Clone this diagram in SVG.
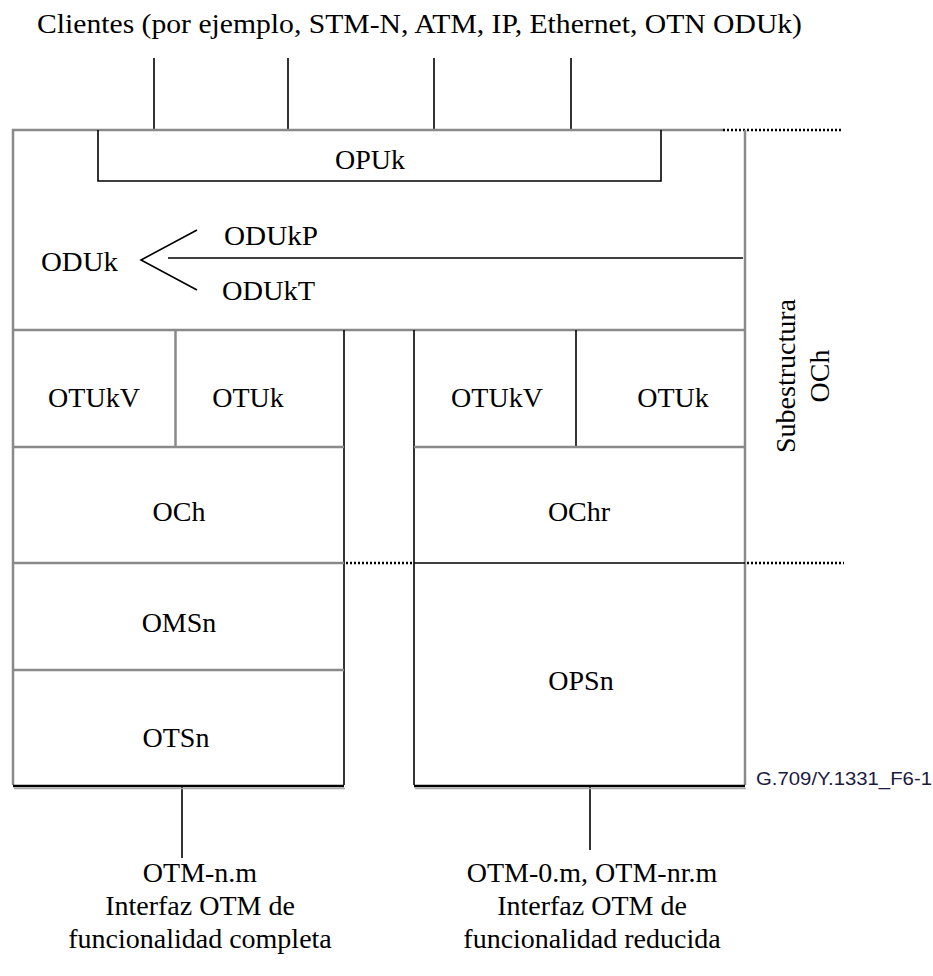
<svg xmlns="http://www.w3.org/2000/svg" width="933" height="976" viewBox="0 0 933 976">
<style>
.t{font-family:'Liberation Serif','Times New Roman',serif;font-size:28px;fill:#000}
.c{text-anchor:middle}
.g{stroke:#8a8a8a;stroke-width:2.5;fill:none}
.k{stroke:#000;stroke-width:1.6;fill:none}
.d{stroke:#000;stroke-width:2.5;stroke-dasharray:2 2;fill:none}
.sans{font-family:'Liberation Sans',Arial,sans-serif;font-size:19px;fill:#1a1a40}
</style>
<rect width="933" height="976" fill="#fff"/>
<g id="title"><text class="t" x="37" y="33" textLength="765" lengthAdjust="spacingAndGlyphs">Clientes (por ejemplo, STM-N, ATM, IP, Ethernet, OTN ODUk)</text></g>
<g id="connectors">
<path class="k" d="M154 58V130M288 58V130M434 58V130M571 58V130"/>
<path class="k" d="M182 786V858M590 786V850"/>
<path class="d" d="M723 130H842M346 563H412M747 563H844"/>
</g>
<g id="oduk">
<path class="g" d="M13 330V130H723M745 130V330"/>
<path class="g" d="M13 330H745"/>
<path class="k" d="M168 258H743"/>
<path class="k" stroke="#444" d="M197 230L141 260L197 290"/>
<text class="t" x="41" y="271" textLength="77" lengthAdjust="spacingAndGlyphs">ODUk</text>
<text class="t" x="224" y="245" textLength="94" lengthAdjust="spacingAndGlyphs">ODUkP</text>
<text class="t" x="222" y="300" textLength="93" lengthAdjust="spacingAndGlyphs">ODUkT</text>
</g>
<g id="opuk">
<path class="k" stroke-width="2" d="M98 130V181H661V130"/>
<text class="t c" x="370" y="169">OPUk</text>
</g>
<g id="left-column">
<path class="g" d="M13 330V785"/>
<path class="k" d="M344 330V785"/>
<path class="g" stroke-width="2" d="M175.5 330V447"/>
<path class="g" stroke-width="2" d="M13 447H344"/>
<path class="g" stroke-width="3" d="M13 563H344"/>
<path class="g" stroke-width="2" d="M13 670H344"/>
<path d="M13 786H344" stroke="#000" stroke-width="2.5"/>
<path d="M14 788.5H345" stroke="#aaa" stroke-width="1.5"/>
</g>
<g id="otukv-l"><text class="t c" x="94" y="407">OTUkV</text></g>
<g id="otuk-l"><text class="t c" x="248" y="407">OTUk</text></g>
<g id="och"><text class="t c" x="179" y="521">OCh</text></g>
<g id="omsn"><text class="t c" x="179" y="632">OMSn</text></g>
<g id="otsn"><text class="t c" x="176" y="747">OTSn</text></g>
<g id="right-column">
<path class="k" d="M414 330V785"/>
<path class="g" d="M745 330V785"/>
<path class="k" d="M576 330V447"/>
<path class="g" stroke-width="2" d="M414 447H745"/>
<path class="k" stroke-width="2" d="M414 563H745"/>
<path d="M414 786H745" stroke="#000" stroke-width="2.5"/>
<path d="M415 788.5H746" stroke="#aaa" stroke-width="1.5"/>
</g>
<g id="otukv-r"><text class="t c" x="497" y="407">OTUkV</text></g>
<g id="otuk-r"><text class="t c" x="673" y="407">OTUk</text></g>
<g id="ochr"><text class="t c" x="579" y="521">OChr</text></g>
<g id="opsn"><text class="t c" x="581" y="690">OPSn</text></g>
<g id="substructure-label">
<text class="t c" transform="translate(795 376) rotate(-90)">Subestructura</text>
<text class="t c" transform="translate(829 376) rotate(-90)">OCh</text>
</g>
<g id="figure-id"><text class="sans" x="756" y="785" textLength="176" lengthAdjust="spacingAndGlyphs">G.709/Y.1331_F6-1</text></g>
<g id="otm-full">
<text class="t c" x="200" y="882">OTM-n.m</text>
<text class="t c" x="200" y="915">Interfaz OTM de</text>
<text class="t c" x="200" y="948">funcionalidad completa</text>
</g>
<g id="otm-reduced">
<text class="t c" x="592" y="882">OTM-0.m, OTM-nr.m</text>
<text class="t c" x="592" y="915">Interfaz OTM de</text>
<text class="t c" x="592" y="948">funcionalidad reducida</text>
</g>
</svg>
